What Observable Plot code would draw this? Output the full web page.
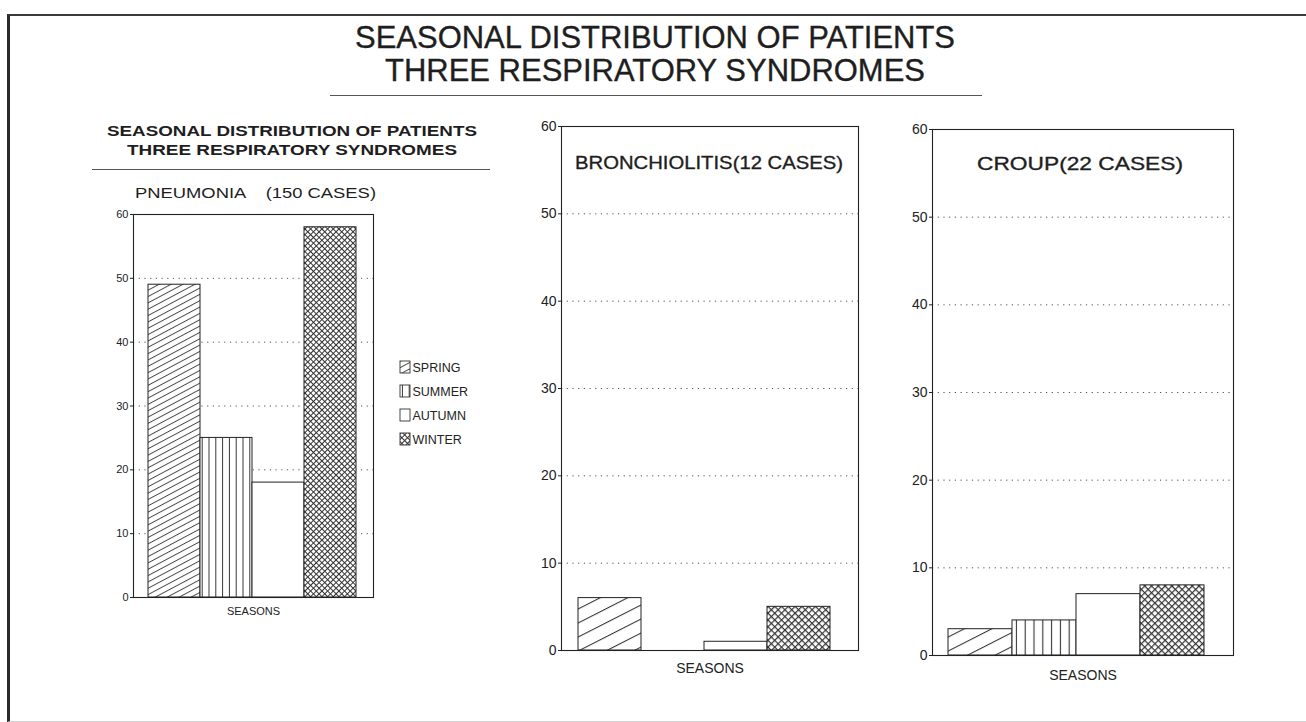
<!DOCTYPE html>
<html>
<head>
<meta charset="utf-8">
<script src="https://cdn.jsdelivr.net/npm/d3@7"></script>
<script src="https://cdn.jsdelivr.net/npm/@observablehq/plot@0.6"></script>
<style>
  body { margin: 0; background: #fff; }
  #page { position: relative; width: 1306px; height: 722px; overflow: hidden; background: #fff;
          font-family: "Liberation Sans", Arial, Helvetica, sans-serif; color: #1e1e1e; }
  .abs { position: absolute; }
  .fit { position: absolute; white-space: nowrap; transform-origin: 0 50%; line-height: 1; }
  .heavy { -webkit-text-stroke: 0.35px #1e1e1e; }
  .rule { position: absolute; height: 0; }
</style>
</head>
<body>
<svg width="0" height="0" style="position:absolute">
  <defs>
    <pattern id="SPRING-s" patternUnits="userSpaceOnUse" width="12" height="5.6" patternTransform="rotate(-28)">
      <rect width="12" height="5.6" fill="#fff"/>
      <line x1="0" y1="0.5" x2="12" y2="0.5" stroke="#333" stroke-width="0.9"/>
    </pattern>
    <pattern id="SPRING-l" patternUnits="userSpaceOnUse" width="12" height="12.5" patternTransform="rotate(-27)">
      <rect width="12" height="12.5" fill="#fff"/>
      <line x1="0" y1="0.5" x2="12" y2="0.5" stroke="#333" stroke-width="1.1"/>
    </pattern>
    <pattern id="SUMMER-s" patternUnits="userSpaceOnUse" width="6.8" height="7">
      <rect width="6.8" height="7" fill="#fff"/>
      <line x1="3.4" y1="0" x2="3.4" y2="7" stroke="#333" stroke-width="1"/>
    </pattern>
    <pattern id="SUMMER-l" patternUnits="userSpaceOnUse" width="8.8" height="8.8">
      <rect width="8.8" height="8.8" fill="#fff"/>
      <line x1="4.4" y1="0" x2="4.4" y2="8.8" stroke="#333" stroke-width="1.1"/>
    </pattern>
    <pattern id="AUTUMN-s" patternUnits="userSpaceOnUse" width="8" height="8">
      <rect width="8" height="8" fill="#fff"/>
    </pattern>
    <pattern id="AUTUMN-l" patternUnits="userSpaceOnUse" width="8" height="8">
      <rect width="8" height="8" fill="#fff"/>
    </pattern>
    <pattern id="WINTER-s" patternUnits="userSpaceOnUse" width="4" height="4" patternTransform="rotate(45)">
      <rect width="4" height="4" fill="#fff"/>
      <line x1="0" y1="0.5" x2="4" y2="0.5" stroke="#333" stroke-width="1"/>
      <line x1="0.5" y1="0" x2="0.5" y2="4" stroke="#333" stroke-width="1"/>
    </pattern>
    <pattern id="WINTER-l" patternUnits="userSpaceOnUse" width="4.8" height="4.8" patternTransform="rotate(45)">
      <rect width="4.8" height="4.8" fill="#fff"/>
      <line x1="0" y1="0.6" x2="4.8" y2="0.6" stroke="#333" stroke-width="1.2"/>
      <line x1="0.6" y1="0" x2="0.6" y2="4.8" stroke="#333" stroke-width="1.2"/>
    </pattern>
  </defs>
</svg>

<div id="page">
  <!-- page edges of the scanned sheet -->
  <div class="abs" style="left:7px; top:14px; width:1310px; height:705px; border-left:3px solid #2b2b2b; border-top:2px solid #3a3a3a; border-bottom:1px solid #cfcfcf;"></div>

  <div id="t1" class="fit heavy" data-w="600" style="left:355px; top:21px; font-size:32px;"></div>
  <div id="t2" class="fit heavy" data-w="540" style="left:385px; top:54px; font-size:32px;"></div>
  <div class="rule" style="left:330px; top:95px; width:652px; border-top:1.5px solid #555;"></div>

  <div id="s1" class="fit" data-w="370" style="left:107px; top:123px; font-size:15px; font-weight:bold;"></div>
  <div id="s2" class="fit" data-w="330" style="left:127px; top:142px; font-size:15px; font-weight:bold;"></div>
  <div class="rule" style="left:92px; top:169px; width:398px; border-top:1px solid #555;"></div>

  <div id="p1" class="fit" data-w="241" style="left:135px; top:186px; font-size:14px;"></div>
  <div id="p2" class="fit heavy" data-w="268" style="left:575px; top:153px; font-size:19px;"></div>
  <div id="p3" class="fit heavy" data-w="206" style="left:977px; top:154px; font-size:19px;"></div>

  <div id="left" class="abs" style="left:90px; top:200px;"></div>
  <div id="legend" class="abs" style="left:399px; top:355px;"></div>
  <div id="mid" class="abs" style="left:510px; top:110px;"></div>
  <div id="right" class="abs" style="left:880px; top:110px;"></div>
</div>

<script>
// ---- data ----
const seasons = ["SPRING", "SUMMER", "AUTUMN", "WINTER"];
const pneumonia = [49, 25, 18, 58];
const bronchiolitis = [6, 0, 1, 5];
const croup = [3, 4, 7, 8];
const yTicks = [0, 10, 20, 30, 40, 50, 60];
const gridTicks = [10, 20, 30, 40, 50];
const mainTitle = ["SEASONAL DISTRIBUTION OF PATIENTS", "THREE RESPIRATORY SYNDROMES"];
const panelTitles = ["PNEUMONIA    (150 CASES)", "BRONCHIOLITIS(12 CASES)", "CROUP(22 CASES)"];
const xLabel = "SEASONS";

// ---- text ----
document.getElementById("t1").textContent = mainTitle[0];
document.getElementById("t2").textContent = mainTitle[1];
document.getElementById("s1").textContent = mainTitle[0];
document.getElementById("s2").textContent = mainTitle[1];
document.getElementById("p1").textContent = panelTitles[0];
document.getElementById("p1").style.whiteSpace = "pre";
document.getElementById("p2").textContent = panelTitles[1];
document.getElementById("p3").textContent = panelTitles[2];

const table = (vals) => seasons.map((s, i) => ({season: s, value: vals[i]}));

function panel({vals, size, width, height, margins, fontSize, pad, align, labelDy}) {
  return Plot.plot({
    width, height,
    marginLeft: margins[0], marginTop: margins[1], marginRight: margins[2], marginBottom: margins[3],
    style: {fontFamily: '"Liberation Sans", Arial, sans-serif', fontSize: fontSize + "px", color: "#222", background: "transparent"},
    x: {type: "band", domain: seasons, paddingInner: 0, paddingOuter: pad, align, axis: null},
    y: {domain: [0, 60], axis: null},
    color: {domain: seasons, range: seasons.map(s => `url(#${s}-${size})`)},
    marks: [
      Plot.gridY(gridTicks, {stroke: "#333", strokeOpacity: 0.85, strokeDasharray: "1.2,4.5", strokeWidth: 1}),
      Plot.barY(table(vals), {x: "season", y: "value", fill: "season", stroke: "#222", strokeWidth: 1}),
      Plot.frame({stroke: "#222", strokeWidth: 1.1}),
      Plot.axisY(yTicks, {label: null, tickSize: 3, tickPadding: 2, stroke: "#222", fontSize: fontSize, fill: "#222"}),
      Plot.text([xLabel], {frameAnchor: "bottom", dy: labelDy, fontSize: fontSize, fill: "#222"})
    ]
  });
}

document.getElementById("left").append(panel({
  vals: pneumonia, size: "s", width: 293, height: 422, margins: [43, 14, 10, 25],
  fontSize: 11, pad: 0.286, align: 0.47, labelDy: 17
}));
document.getElementById("mid").append(panel({
  vals: bronchiolitis, size: "l", width: 358, height: 580, margins: [51, 16, 10, 40],
  fontSize: 14, pad: 0.339, align: 0.372, labelDy: 22
}));
document.getElementById("right").append(panel({
  vals: croup, size: "l", width: 363, height: 590, margins: [52, 19, 10, 45],
  fontSize: 14, pad: 0.333, align: 0.35, labelDy: 24
}));

// legend built from the same categories
document.getElementById("legend").append(Plot.plot({
  width: 100, height: 96, margin: 0,
  style: {fontFamily: '"Liberation Sans", Arial, sans-serif', fontSize: "12.5px", color: "#222", background: "transparent", overflow: "visible"},
  x: {type: "band", domain: ["swatch"], range: [1, 11], padding: 0, axis: null},
  y: {type: "band", domain: seasons, range: [0, 96], paddingInner: 0.5, paddingOuter: 0.25, axis: null},
  color: {domain: seasons, range: seasons.map(s => `url(#${s}-s)`)},
  marks: [
    Plot.cell(seasons, {x: () => "swatch", y: d => d, fill: d => d, stroke: "#333", strokeWidth: 0.9}),
    Plot.text(seasons, {x: () => "swatch", y: d => d, text: d => d, textAnchor: "start", dx: 7, fill: "#222"})
  ]
}));

// fit titles to their measured widths in the reference
document.querySelectorAll(".fit").forEach(el => {
  const w = el.getBoundingClientRect().width;
  const target = +el.dataset.w;
  if (w > 0) el.style.transform = `scaleX(${target / w})`;
});
</script>
</body>
</html>
